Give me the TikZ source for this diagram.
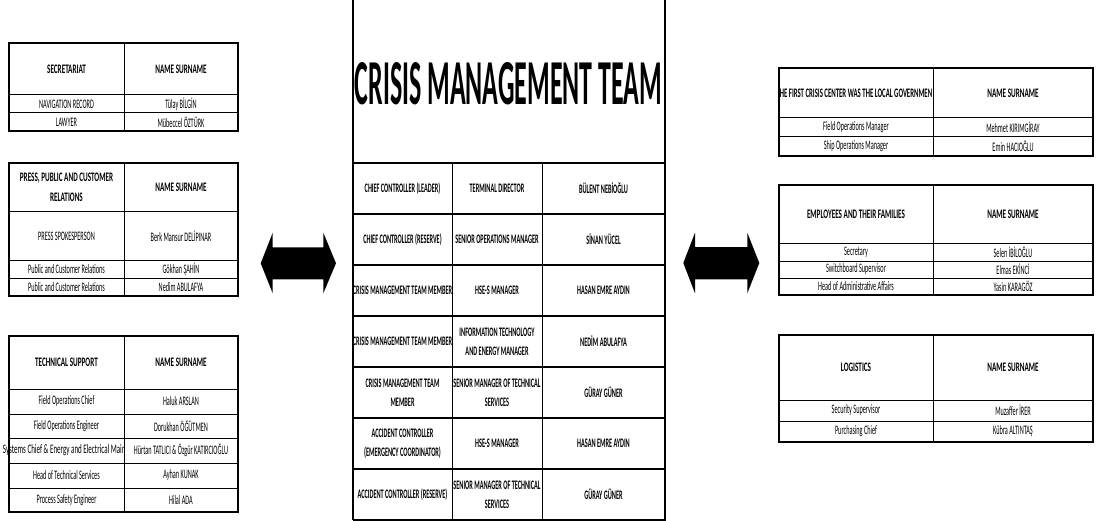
\documentclass[tikz,border=0pt]{standalone}
\usepackage{fontspec}
\usepackage{graphicx}
\setmainfont{Carlito}[FakeStretch=0.48]
\newfontfamily\hdfont{Carlito}[FakeStretch=0.55]
\newfontfamily\hdnarrow{Carlito}[FakeStretch=0.52]
\newfontfamily\widefont{Carlito}[FakeStretch=0.54]
\tikzset{
  grid/.style={draw=black,line width=1pt},
  outer/.style={draw=black,line width=1.6pt},
  celltxt/.style={inner sep=0pt,align=center,font=\fontsize{13}{17}\selectfont},
  headtxt/.style={celltxt,font=\hdfont\fontsize{13}{20}\selectfont\bfseries},
  headnarrow/.style={celltxt,font=\hdnarrow\fontsize{13}{20}\selectfont\bfseries},
  ctrtxt/.style={celltxt,font=\fontsize{13}{19}\selectfont\bfseries},
  arrowshape/.style={fill=black,draw=none}
}
\newcommand{\cellbox}[7]{%
  \begin{scope}
    \clip (#1,#2) rectangle (#3,#4);
    \node[#6] (#5) at ({(#1+#3)/2},{(#2+#4)/2}) {#7};
  \end{scope}
  \draw[grid] (#1,#2) rectangle (#3,#4);
}
\begin{document}
\begin{tikzpicture}[x=1pt,y=-1pt]
\useasboundingbox (0,0) rectangle (1099,521);
\fill[white] (0,0) rectangle (1099,521);

% ---------- LEFT: SECRETARIAT ----------
\cellbox{9}{43}{124}{95}{s00}{headtxt}{SECRETARIAT}
\cellbox{124}{43}{238}{95}{s01}{headtxt}{NAME SURNAME}
\cellbox{9}{95}{124}{113}{s10}{celltxt}{NAVIGATION RECORD}
\cellbox{124}{95}{238}{113}{s11}{celltxt}{Tülay BİLGİN}
\cellbox{9}{113}{124}{131}{s20}{celltxt}{LAWYER}
\cellbox{124}{113}{238}{131}{s21}{celltxt}{Mübeccel ÖZTÜRK}
\draw[outer] (9,43) rectangle (238,131);

% ---------- LEFT: PRESS ----------
\cellbox{9}{163}{124}{212}{p00}{headtxt}{PRESS, PUBLIC AND CUSTOMER\\RELATIONS}
\cellbox{124}{163}{238}{212}{p01}{headtxt}{NAME SURNAME}
\cellbox{9}{212}{124}{260}{p10}{celltxt}{PRESS SPOKESPERSON}
\cellbox{124}{212}{238}{260}{p11}{celltxt}{Berk Mansur DELİPINAR}
\cellbox{9}{260}{124}{278}{p20}{celltxt}{Public and Customer Relations}
\cellbox{124}{260}{238}{278}{p21}{celltxt}{Gökhan ŞAHİN}
\cellbox{9}{278}{124}{296}{p30}{celltxt}{Public and Customer Relations}
\cellbox{124}{278}{238}{296}{p31}{celltxt}{Nedim ABULAFYA}
\draw[outer] (9,163) rectangle (238,296);

% ---------- LEFT: TECHNICAL SUPPORT ----------
\cellbox{9}{336}{124}{389}{t00}{headtxt}{TECHNICAL SUPPORT}
\cellbox{124}{336}{238}{389}{t01}{headtxt}{NAME SURNAME}
\cellbox{9}{389}{124}{414}{t10}{celltxt}{Field Operations Chief}
\cellbox{124}{389}{238}{414}{t11}{celltxt}{Haluk ARSLAN}
\cellbox{9}{414}{124}{438}{t20}{celltxt}{Field Operations Engineer}
\cellbox{124}{414}{238}{438}{t21}{celltxt}{Dorukhan ÖĞÜTMEN}
\begin{scope}
  \clip (0,438) rectangle (124,463);
  \node[celltxt,font=\widefont\fontsize{13}{17}\selectfont,anchor=east] (t30) at (128,450.5) {Systems Chief \& Energy and Electrical Maint};
\end{scope}
\draw[grid] (9,438) rectangle (124,463);
\cellbox{124}{438}{238}{463}{t31}{celltxt}{Hürtan TATLICI \& Özgür KATIRCIOĞLU}
\cellbox{9}{463}{124}{488}{t40}{celltxt}{Head of Technical Services}
\cellbox{124}{463}{238}{488}{t41}{celltxt}{Ayhan KUNAK}
\cellbox{9}{488}{124}{512}{t50}{celltxt}{Process Safety Engineer}
\cellbox{124}{488}{238}{512}{t51}{celltxt}{Hilal ADA}
\draw[outer] (9,336) rectangle (238,512);

% ---------- CENTER ----------
\draw[outer] (353,0) -- (353,520);
\draw[outer] (665,0) -- (665,520);
\node (title) at (508.5,84) {\resizebox{307pt}{42pt}{\bfseries CRISIS MANAGEMENT TEAM}};
\cellbox{353}{163}{452}{214}{c10}{ctrtxt}{CHIEF CONTROLLER (LEADER)}
\cellbox{452}{163}{542}{214}{c11}{ctrtxt}{TERMINAL DIRECTOR}
\cellbox{542}{163}{665}{214}{c12}{ctrtxt}{BÜLENT NEBİOĞLU}
\cellbox{353}{214}{452}{265}{c20}{ctrtxt}{CHIEF CONTROLLER (RESERVE)}
\cellbox{452}{214}{542}{265}{c21}{ctrtxt}{SENIOR OPERATIONS MANAGER}
\cellbox{542}{214}{665}{265}{c22}{ctrtxt}{SİNAN YÜCEL}
\cellbox{353}{265}{452}{316}{c30}{ctrtxt}{CRISIS MANAGEMENT TEAM MEMBER}
\cellbox{452}{265}{542}{316}{c31}{ctrtxt}{HSE-S MANAGER}
\cellbox{542}{265}{665}{316}{c32}{ctrtxt}{HASAN EMRE AYDIN}
\cellbox{353}{316}{452}{367}{c40}{ctrtxt}{CRISIS MANAGEMENT TEAM MEMBER}
\cellbox{452}{316}{542}{367}{c41}{ctrtxt}{INFORMATION TECHNOLOGY\\AND ENERGY MANAGER}
\cellbox{542}{316}{665}{367}{c42}{ctrtxt}{NEDİM ABULAFYA}
\cellbox{353}{367}{452}{418}{c50}{ctrtxt}{CRISIS MANAGEMENT TEAM\\MEMBER}
\cellbox{452}{367}{542}{418}{c51}{ctrtxt}{SENIOR MANAGER OF TECHNICAL\\SERVICES}
\cellbox{542}{367}{665}{418}{c52}{ctrtxt}{GÜRAY GÜNER}
\cellbox{353}{418}{452}{469}{c60}{ctrtxt}{ACCIDENT CONTROLLER\\(EMERGENCY COORDINATOR)}
\cellbox{452}{418}{542}{469}{c61}{ctrtxt}{HSE-S MANAGER}
\cellbox{542}{418}{665}{469}{c62}{ctrtxt}{HASAN EMRE AYDIN}
\cellbox{353}{469}{452}{520}{c70}{ctrtxt}{ACCIDENT CONTROLLER (RESERVE)}
\cellbox{452}{469}{542}{520}{c71}{ctrtxt}{SENIOR MANAGER OF TECHNICAL\\SERVICES}
\cellbox{542}{469}{665}{520}{c72}{ctrtxt}{GÜRAY GÜNER}
\foreach \yy in {163,214,265,316,367,418,469,520}{\draw[line width=2pt] (353,\yy) -- (665,\yy);}

% ---------- RIGHT: FIRST CRISIS CENTER ----------
\cellbox{779}{68}{933}{118}{r00}{headnarrow}{HE FIRST CRISIS CENTER WAS THE LOCAL GOVERNMEN}
\cellbox{933}{68}{1093}{118}{r01}{headtxt}{NAME SURNAME}
\cellbox{779}{118}{933}{137}{r10}{celltxt}{Field Operations Manager}
\cellbox{933}{118}{1093}{137}{r11}{celltxt}{Mehmet KIRIMGİRAY}
\cellbox{779}{137}{933}{156}{r20}{celltxt}{Ship Operations Manager}
\cellbox{933}{137}{1093}{156}{r21}{celltxt}{Emin HACIOĞLU}
\draw[outer] (779,68) rectangle (1093,156);

% ---------- RIGHT: EMPLOYEES ----------
\cellbox{779}{185}{933}{243}{e00}{headtxt}{EMPLOYEES AND THEIR FAMILIES}
\cellbox{933}{185}{1093}{243}{e01}{headtxt}{NAME SURNAME}
\cellbox{779}{243}{933}{261}{e10}{celltxt}{Secretary}
\cellbox{933}{243}{1093}{261}{e11}{celltxt}{Selen İBİLOĞLU}
\cellbox{779}{261}{933}{278}{e20}{celltxt}{Switchboard Supervisor}
\cellbox{933}{261}{1093}{278}{e21}{celltxt}{Elmas EKİNCİ}
\cellbox{779}{278}{933}{295}{e30}{celltxt}{Head of Administrative Affairs}
\cellbox{933}{278}{1093}{295}{e31}{celltxt}{Yasin KARAGÖZ}
\draw[outer] (779,185) rectangle (1093,295);

% ---------- RIGHT: LOGISTICS ----------
\cellbox{779}{335}{933}{400}{l00}{headtxt}{LOGISTICS}
\cellbox{933}{335}{1093}{400}{l01}{headtxt}{NAME SURNAME}
\cellbox{779}{400}{933}{421}{l10}{celltxt}{Security Supervisor}
\cellbox{933}{400}{1093}{421}{l11}{celltxt}{Muzaffer İRER}
\cellbox{779}{421}{933}{442}{l20}{celltxt}{Purchasing Chief}
\cellbox{933}{421}{1093}{442}{l21}{celltxt}{Kübra ALTINTAŞ}
\draw[outer] (779,335) rectangle (1093,442);

% ---------- DOUBLE ARROWS ----------
\fill[arrowshape] (260.7,263.3) -- (272.7,232.7) -- (272.7,247.3) -- (323.3,247.3) -- (323.3,232.7) -- (336,263.3) -- (323.3,293.3) -- (323.3,279.3) -- (272.7,279.3) -- (272.7,293.3) -- cycle;
\fill[arrowshape] (683.3,263) -- (695,232.7) -- (695,247) -- (747.3,247) -- (747.3,232.7) -- (759.3,263) -- (747.3,293.3) -- (747.3,279.3) -- (695,279.3) -- (695,293.3) -- cycle;
\end{tikzpicture}
\end{document}
